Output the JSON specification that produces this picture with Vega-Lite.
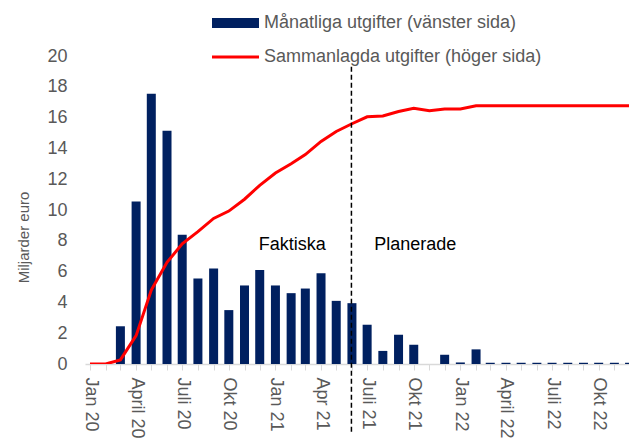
{
  "$schema": "https://vega.github.io/schema/vega-lite/v6.json",
  "width": 544,
  "height": 308,
  "autosize": {"type": "none"},
  "padding": {"left": 85, "top": 56, "right": 0, "bottom": 75},
  "background": "white",
  "config": {
    "view": {"stroke": null},
    "font": "Liberation Sans",
    "axisY": {"labelOverlap": false}
  },
  "datasets": {
    "spend": [
      {"date": "2020-01-01", "monthly": 0, "cumulative": 0},
      {"date": "2020-02-01", "monthly": 0, "cumulative": 0},
      {"date": "2020-03-01", "monthly": 2.45, "cumulative": 0.27},
      {"date": "2020-04-01", "monthly": 10.55, "cumulative": 1.84},
      {"date": "2020-05-01", "monthly": 17.55, "cumulative": 4.8},
      {"date": "2020-06-01", "monthly": 15.15, "cumulative": 6.6},
      {"date": "2020-07-01", "monthly": 8.4, "cumulative": 7.8},
      {"date": "2020-08-01", "monthly": 5.55, "cumulative": 8.6},
      {"date": "2020-09-01", "monthly": 6.2, "cumulative": 9.45},
      {"date": "2020-10-01", "monthly": 3.5, "cumulative": 9.93},
      {"date": "2020-11-01", "monthly": 5.1, "cumulative": 10.7},
      {"date": "2020-12-01", "monthly": 6.1, "cumulative": 11.6},
      {"date": "2021-01-01", "monthly": 5.1, "cumulative": 12.4},
      {"date": "2021-02-01", "monthly": 4.6, "cumulative": 13.0},
      {"date": "2021-03-01", "monthly": 4.9, "cumulative": 13.6},
      {"date": "2021-04-01", "monthly": 5.9, "cumulative": 14.45},
      {"date": "2021-05-01", "monthly": 4.1, "cumulative": 15.1},
      {"date": "2021-06-01", "monthly": 3.95, "cumulative": 15.6},
      {"date": "2021-07-01", "monthly": 2.55, "cumulative": 16.05},
      {"date": "2021-08-01", "monthly": 0.85, "cumulative": 16.1},
      {"date": "2021-09-01", "monthly": 1.9, "cumulative": 16.4},
      {"date": "2021-10-01", "monthly": 1.25, "cumulative": 16.6},
      {"date": "2021-11-01", "monthly": 0, "cumulative": 16.45},
      {"date": "2021-12-01", "monthly": 0.6, "cumulative": 16.56},
      {"date": "2022-01-01", "monthly": 0.1, "cumulative": 16.56},
      {"date": "2022-02-01", "monthly": 0.95, "cumulative": 16.77},
      {"date": "2022-03-01", "monthly": 0.08, "cumulative": 16.77},
      {"date": "2022-04-01", "monthly": 0.08, "cumulative": 16.77},
      {"date": "2022-05-01", "monthly": 0.08, "cumulative": 16.77},
      {"date": "2022-06-01", "monthly": 0.08, "cumulative": 16.77},
      {"date": "2022-07-01", "monthly": 0.08, "cumulative": 16.77},
      {"date": "2022-08-01", "monthly": 0.08, "cumulative": 16.77},
      {"date": "2022-09-01", "monthly": 0.08, "cumulative": 16.77},
      {"date": "2022-10-01", "monthly": 0.08, "cumulative": 16.77},
      {"date": "2022-11-01", "monthly": 0.08, "cumulative": 16.77},
      {"date": "2022-12-01", "monthly": 0.08, "cumulative": 16.77}
    ],
    "labels": [
      {"date": "2021-02-03", "value": 7.75, "label": "Faktiska"},
      {"date": "2021-10-04", "value": 7.75, "label": "Planerade"}
    ],
    "divider": [
      {"date": "2021-05-31", "top": 19.3, "bottom": -4.5}
    ]
  },
  "encoding": {
    "y": {
      "type": "quantitative",
      "scale": {"domain": [0, 20], "nice": false},
      "axis": {
        "title": "Miljarder euro",
        "titleFontSize": 15,
        "titleFontWeight": "normal",
        "titleColor": "#595959",
        "titleAngle": -90,
        "titleAlign": "center",
        "titleBaseline": "middle",
        "titleX": -62,
        "titleY": 181,
        "values": [0, 2, 4, 6, 8, 10, 12, 14, 16, 18, 20],
        "labelOverlap": false,
        "labelFontSize": 18,
        "labelColor": "#595959",
        "labelPadding": 18,
        "ticks": false,
        "tickSize": 0,
        "domain": false,
        "grid": false
      }
    }
  },
  "layer": [
    {
      "data": {"name": "spend"},
      "mark": {"type": "bar", "width": 9, "clip": true},
      "encoding": {
        "x": {
          "field": "date",
          "type": "temporal",
          "scale": {"type": "utc", "domain": ["2020-01-01", "2022-11-20"]},
          "axis": {
            "title": null,
            "tickCount": {"interval": "month", "step": 1},
            "labelExpr": "utcmonth(datum.value) % 3 != 0 ? '' : ((utcmonth(datum.value) == 3 && utcyear(datum.value) == 2021) ? 'Apr 21' : ['Jan', 'April', 'Juli', 'Okt'][utcmonth(datum.value) / 3] + ' ' + utcFormat(datum.value, '%y'))",
            "labelAngle": 90,
            "labelAlign": "left",
            "labelBaseline": "middle",
            "labelFontSize": 18,
            "labelColor": "#595959",
            "labelOverlap": false,
            "labelFlush": false,
            "labelBound": false,
            "labelPadding": 7,
            "tickSize": 6,
            "tickColor": "#d9d9d9",
            "domainColor": "#d9d9d9",
            "domainWidth": 1.5,
            "grid": false
          }
        },
        "y": {"field": "monthly"},
        "color": {
          "datum": "Månatliga utgifter (vänster sida)",
          "scale": {
            "domain": ["Månatliga utgifter (vänster sida)", "Sammanlagda utgifter (höger sida)"],
            "range": ["#002060", "#ff0000"]
          },
          "legend": {
            "title": null,
            "orient": "none",
            "legendX": 123,
            "legendY": -42,
            "padding": 0,
            "rowPadding": 16,
            "labelFontSize": 18,
            "labelColor": "#595959",
            "labelOffset": 38,
            "labelLimit": 400,
            "symbolSize": 100,
            "encode": {
              "symbols": {
                "update": {
                  "shape": {"signal": "datum.index === 0 ? 'M-1,-1H8.4V1H-1Z' : 'M-1,-0.3H8.4V0.3H-1Z'"},
                  "fill": {"signal": "datum.index === 0 ? '#002060' : '#ff0000'"},
                  "stroke": {"value": "transparent"},
                  "strokeWidth": {"value": 0},
                  "size": {"value": 100},
                  "opacity": {"value": 1}
                }
              }
            }
          }
        }
      }
    },
    {
      "data": {"name": "spend"},
      "mark": {"type": "line", "strokeWidth": 3, "clip": true},
      "encoding": {
        "x": {"field": "date", "type": "temporal"},
        "y": {"field": "cumulative"},
        "color": {"datum": "Sammanlagda utgifter (höger sida)"}
      }
    },
    {
      "data": {"name": "divider"},
      "mark": {"type": "rule", "color": "black", "strokeWidth": 1.5, "strokeDash": [5, 3], "clip": false},
      "encoding": {
        "x": {"field": "date", "type": "temporal"},
        "y": {"field": "top"},
        "y2": {"field": "bottom"}
      }
    },
    {
      "data": {"name": "labels"},
      "mark": {"type": "text", "fontSize": 18, "color": "black", "align": "center", "baseline": "middle"},
      "encoding": {
        "x": {"field": "date", "type": "temporal"},
        "y": {"field": "value"},
        "text": {"field": "label"}
      }
    }
  ]
}
